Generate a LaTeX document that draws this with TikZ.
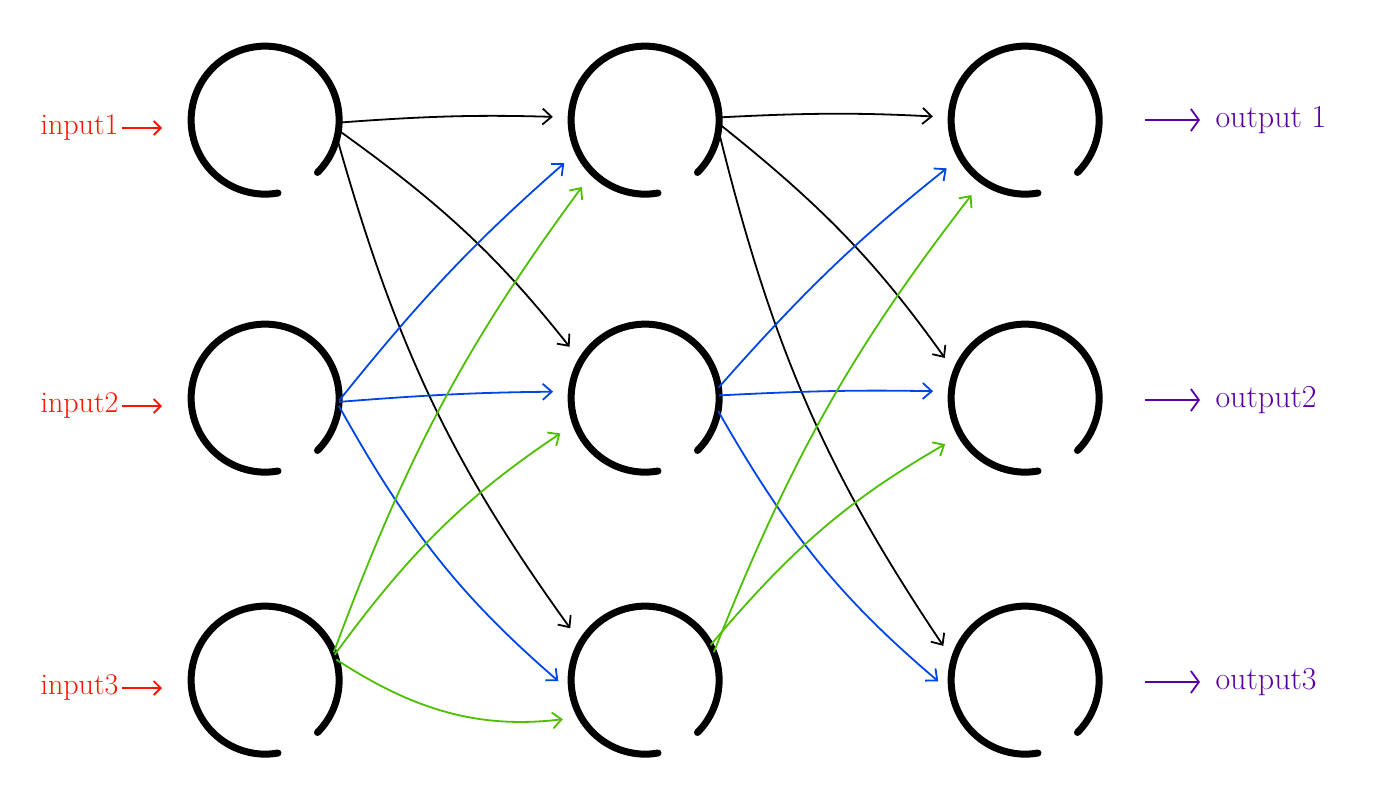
\documentclass[tikz,border=0pt]{standalone}
\usetikzlibrary{arrows.meta}
\begin{document}
\begin{tikzpicture}[x=1pt,y=-1pt,
  neuron/.style={circle,minimum size=148pt,inner sep=0pt,draw=none},
  ring/.style={line width=7pt,line cap=round},
  conn/.style={line width=1.8pt,shorten >=18pt,-{Straight Barb[length=9pt,width=16pt]}},
  blk/.style={conn,black},
  blu/.style={conn,blue!70!cyan!90!black},
  grn/.style={conn,green!60!yellow!75!black},
  inlab/.style={text=red!85!orange,font=\fontsize{30}{32}\selectfont},
  outlab/.style={text=violet!70!blue,font=\fontsize{32}{34}\selectfont},
  inarr/.style={line width=1.8pt,red!85!orange,-{Straight Barb[length=7pt,width=14pt]}},
  outarr/.style={line width=1.8pt,violet!70!blue,-{Straight Barb[length=8pt,width=22pt]}}]
\useasboundingbox (0,0) rectangle (1400,792);
\foreach \c/\x in {a/265,b/645,c/1025}{
  \foreach \r/\y in {1/120,2/398,3/680}{
    \node[neuron] (\c\r) at (\x,\y) {};
    \draw[ring] (\c\r.-45) arc[start angle=-45,end angle=280,radius=74pt];
  }}
% layer 1 -> 2
\draw[blk] (a1.-2) to[bend left=3] (b1.178);
\draw[blk] (a1.-8) to[bend left=8] (b2.150);
\draw[blk] (a1.-14) to[bend right=10] (b3.150);
\draw[blu] (a2.-2) to[bend left=5] (b1.-155);
\draw[blu] (a2.-3) to[bend left=2] (b2.175);
\draw[blu] (a2.-6) to[bend right=10] (b3.-170);
\draw[grn] (a3.22) to[bend left=8] (b1.-135);
\draw[grn] (a3.20) to[bend left=10] (b2.-160);
\draw[grn] (a3.16) to[bend right=20] (b3.-150);
% layer 2 -> 3
\draw[blk] (b1.2) to[bend left=3] (c1.178);
\draw[blk] (b1.-3) to[bend left=8] (c2.160);
\draw[blk] (b1.-8) to[bend right=10] (c3.165);
\draw[blu] (b2.8) to[bend left=5] (c1.-150);
\draw[blu] (b2.2) to[bend left=2] (c2.175);
\draw[blu] (b2.-10) to[bend right=10] (c3.-170);
\draw[grn] (b3.22) to[bend left=8] (c1.-125);
\draw[grn] (b3.28) to[bend left=10] (c2.-150);
% labels
\foreach \r/\y/\t in {1/128/input1,2/406/input2,3/688/input3}{
  \node[inlab,anchor=east] (in\r) at (122,\y) {\t};
  \draw[inarr] (in\r.east) -- ++(40,0);
}
\foreach \r/\y/\t in {1/120/output 1,2/400/output2,3/682/output3}{
  \coordinate (os\r) at (1145,\y);
  \draw[outarr] (os\r) -- ++(55,0) coordinate (oe\r);
  \node[outlab,anchor=west] (out\r) at (1212,\y) {\t};
}
\end{tikzpicture}
\end{document}
